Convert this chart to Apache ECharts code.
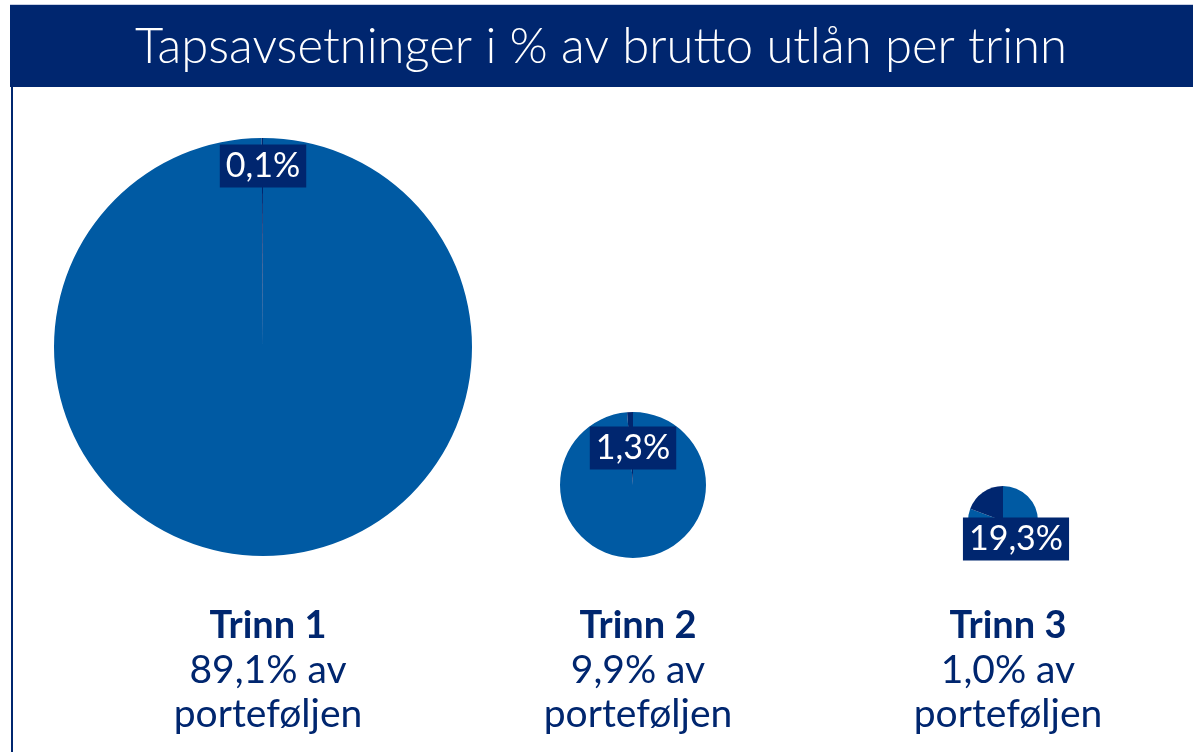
<!DOCTYPE html>
<html>
<head>
<meta charset="utf-8">
<title>Tapsavsetninger i % av brutto utlån per trinn</title>
<script src="https://cdn.jsdelivr.net/npm/echarts@6/dist/echarts.min.js"></script>
<style>
  html, body { margin: 0; padding: 0; background: #fff; }
  #chart { width: 1193px; height: 752px; }
</style>
</head>
<body>
<div id="chart"></div>
<script>
// data
const stages = ['Trinn 1', 'Trinn 2', 'Trinn 3']
const portfolioShare = [89.1, 9.9, 1.0] // % av porteføljen
const lossProvision = [0.1, 1.3, 19.3] // tapsavsetning i % av brutto utlån

// layout
const NAVY = '#00266f'
const BLUE = '#005aa3'
const FONT = 'Lato, "Open Sans", sans-serif'
const pieCenters = [[263, 347], [633, 485], [1003, 521]]
const pieRadius = [209, 73, 35]
const labelPos = [[263, 166], [633, 448], [1016, 539]]
const textCenterX = [263, 633, 1003]

const fmt = v => v.toFixed(1).replace('.', ',')

const chart = echarts.init(document.getElementById('chart'))

const series = stages.map((name, i) => ({
  type: 'pie',
  name: name,
  center: pieCenters[i],
  radius: [0, pieRadius[i]],
  startAngle: 90,
  clockwise: true,
  minAngle: 0,
  silent: true,
  animation: false,
  emphasis: { disabled: true },
  labelLine: { show: false },
  data: [
    {
      value: 100 - lossProvision[i],
      name: 'Øvrig',
      itemStyle: { color: BLUE },
      label: { show: false },
    },
    {
      value: lossProvision[i],
      name: 'Tapsavsetning',
      itemStyle: { color: NAVY },
      label: {
        show: true,
        position: 'inside',
        formatter: fmt(lossProvision[i]) + '%',
        color: '#fff',
        fontFamily: FONT,
        fontSize: 34,
        backgroundColor: NAVY,
        padding: [5, 6, 4, 6],
      },
    },
  ],
  labelLayout: {
    x: labelPos[i][0],
    y: labelPos[i][1],
    align: 'center',
    verticalAlign: 'middle',
  },
}))

const titles = [{
  text: 'Tapsavsetninger i % av brutto utlån per trinn',
  left: 596,
  top: 18,
  textAlign: 'center',
  textStyle: {
    color: '#fff',
    fontFamily: FONT,
    fontWeight: 300,
    fontSize: 49,
  },
}].concat(stages.map((name, i) => ({
  text: '{b|' + name + '}\n{n|' + fmt(portfolioShare[i]) + '% av}\n{n|porteføljen}',
  left: textCenterX[i],
  top: 598,
  textAlign: 'center',
  textStyle: {
    fontWeight: 'normal',
    rich: {
      b: { fontFamily: FONT, fontWeight: 'bold', fontSize: 38, color: NAVY, lineHeight: 45, align: 'center' },
      n: { fontFamily: FONT, fontWeight: 'normal', fontSize: 39, color: NAVY, lineHeight: 44, align: 'center' },
    },
  },
})))

chart.setOption({
  backgroundColor: '#fff',
  animation: false,
  title: titles,
  graphic: [
    { type: 'rect', z: -1, shape: { x: 10, y: 4, width: 1183, height: 1 }, style: { fill: '#c9d0e3' } },
    { type: 'rect', z: -1, shape: { x: 10, y: 5, width: 1183, height: 82 }, style: { fill: NAVY } },
    { type: 'rect', z: -1, shape: { x: 11, y: 87, width: 2, height: 665 }, style: { fill: NAVY } },
  ],
  series: series,
})
</script>
</body>
</html>
